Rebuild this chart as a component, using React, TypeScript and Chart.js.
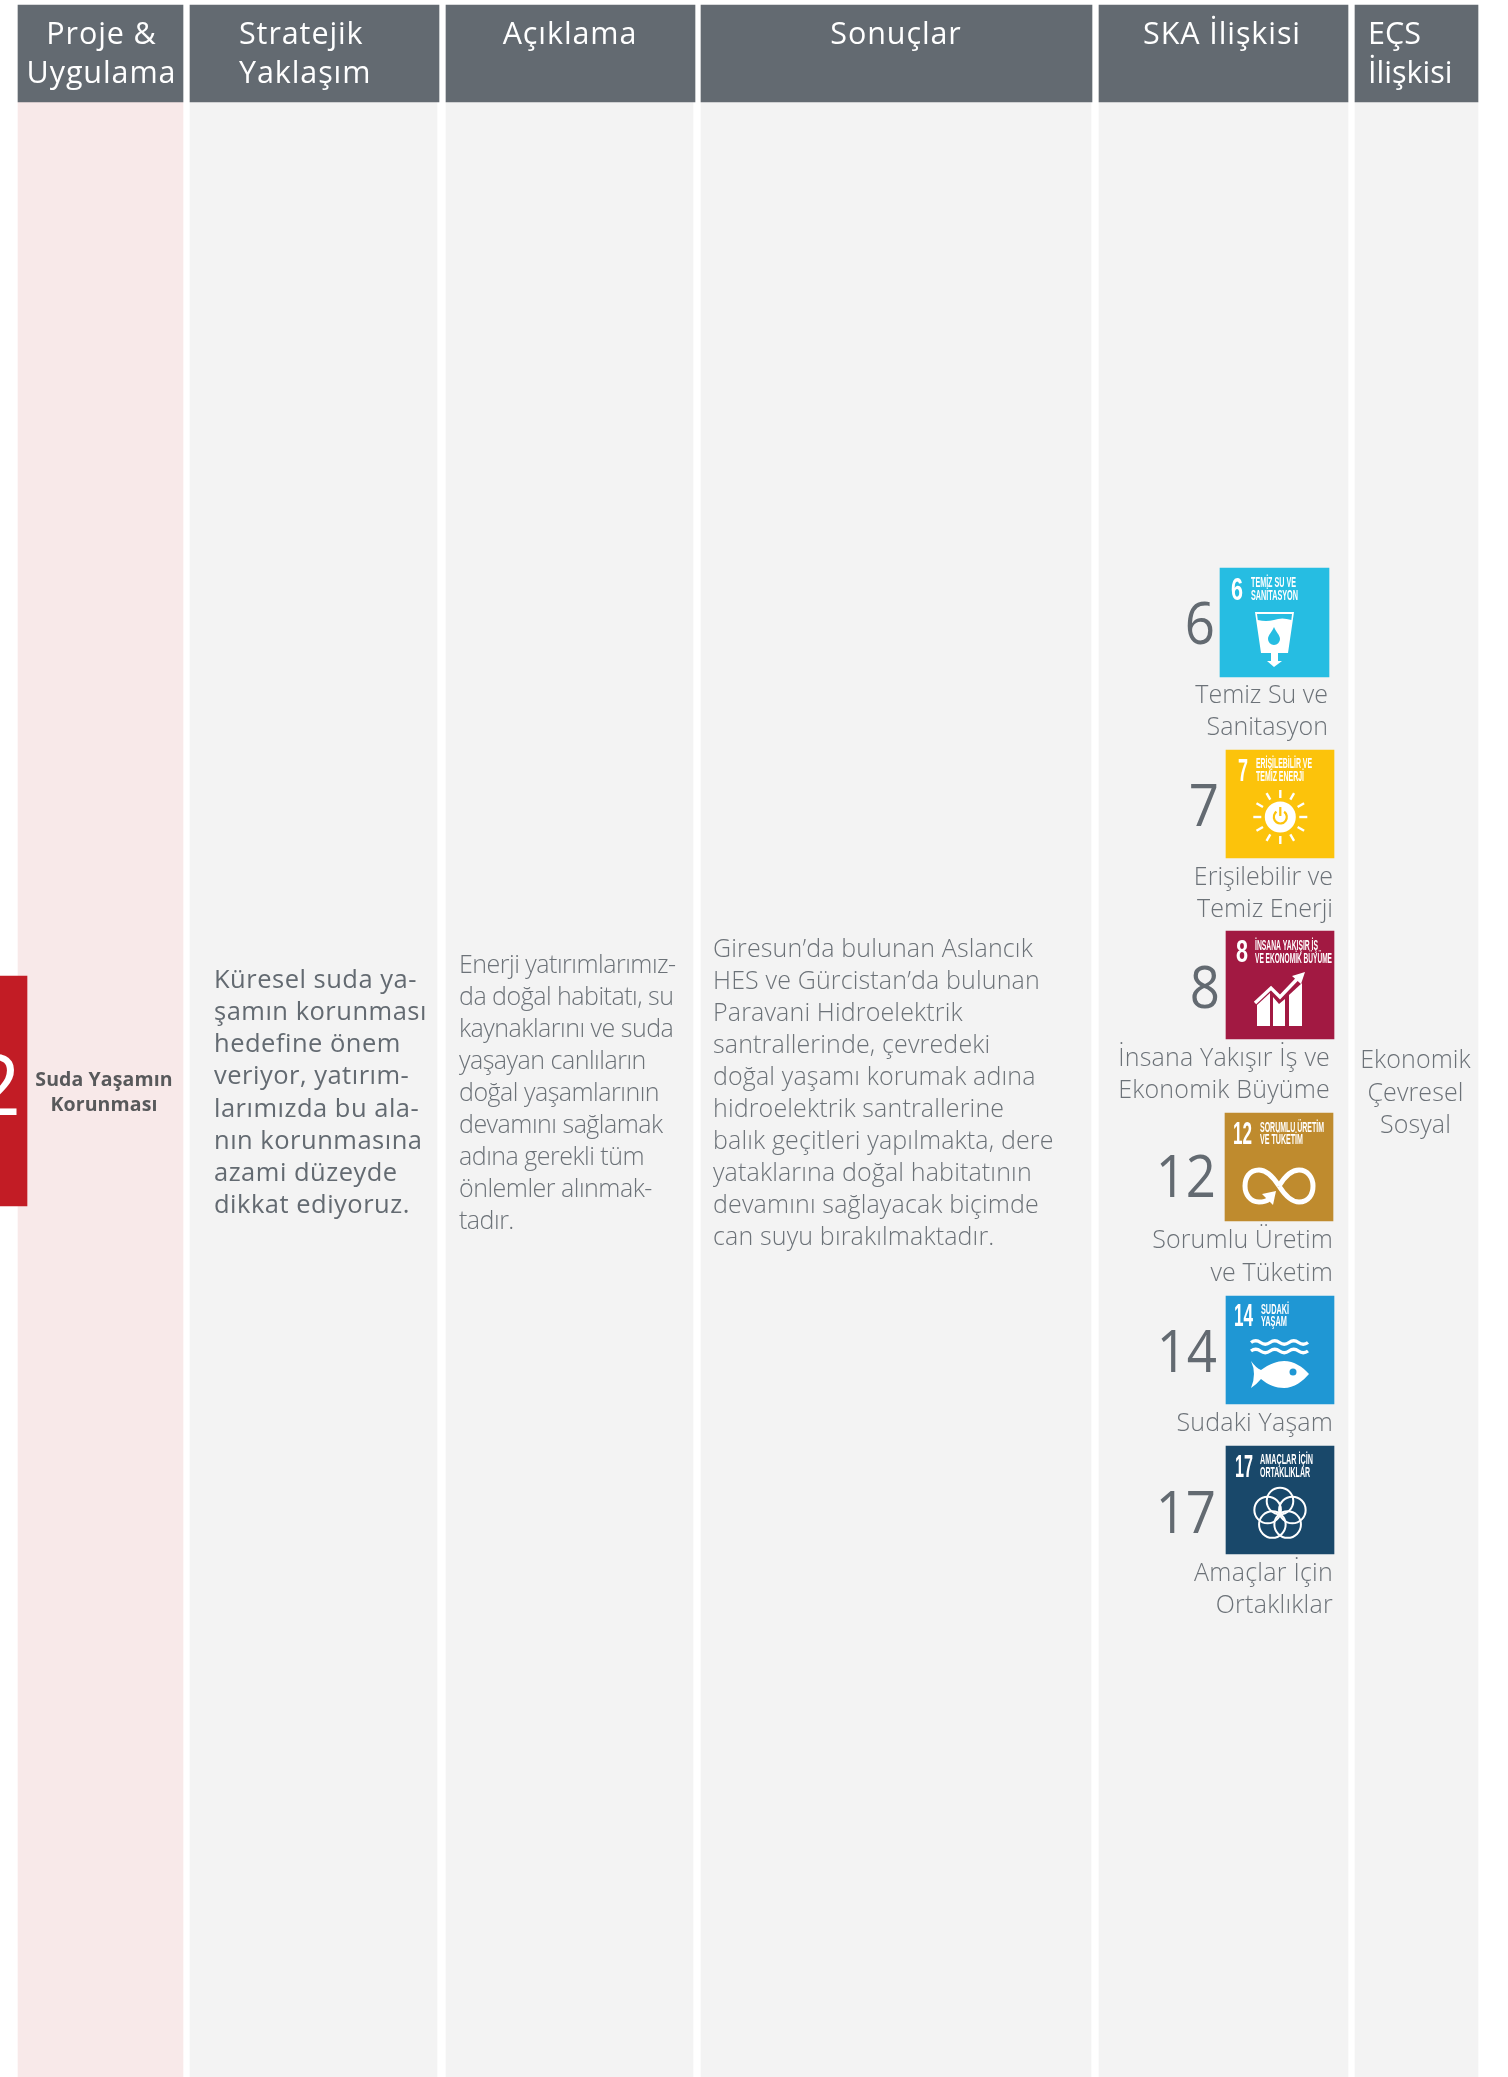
import React, { useEffect, useRef } from "react";
import { Chart, registerables } from "chart.js";

Chart.register(...registerables);

// ---------- content ----------
const headerLabels = [["Proje &", "Uygulama"], ["Stratejik", "Yaklaşım"], ["Açıklama"], ["Sonuçlar"], ["SKA İlişkisi"], ["EÇS", "İlişkisi"]];
const projectNumber = "2";
const projectName = ["Suda Yaşamın", "Korunması"];
const strategyLines = ["Küresel suda ya-", "şamın korunması", "hedefine önem", "veriyor, yatırım-", "larımızda bu ala-", "nın korunmasına", "azami düzeyde", "dikkat ediyoruz."];
const descriptionLines = ["Enerji yatırımlarımız-", "da doğal habitatı, su", "kaynaklarını ve suda", "yaşayan canlıların", "doğal yaşamlarının", "devamını sağlamak", "adına gerekli tüm", "önlemler alınmak-", "tadır."];
const resultLines = ["Giresun’da bulunan Aslancık", "HES ve Gürcistan’da bulunan", "Paravani Hidroelektrik", "santrallerinde, çevredeki", "doğal yaşamı korumak adına", "hidroelektrik santrallerine", "balık geçitleri yapılmakta, dere", "yataklarına doğal habitatının", "devamını sağlayacak biçimde", "can suyu bırakılmaktadır."];
const goalNumbers = ["6", "7", "8", "12", "14", "17"];
const goalNames = [["Temiz Su ve", "Sanitasyon"], ["Erişilebilir ve", "Temiz Enerji"], ["İnsana Yakışır İş ve", "Ekonomik Büyüme"], ["Sorumlu Üretim", "ve Tüketim"], ["Sudaki Yaşam"], ["Amaçlar İçin", "Ortaklıklar"]];
const goalIconTitles = [["TEMİZ SU VE", "SANİTASYON"], ["ERİŞİLEBİLİR VE", "TEMİZ ENERJİ"], ["İNSANA YAKIŞIR İŞ", "VE EKONOMİK BÜYÜME"], ["SORUMLU ÜRETİM", "VE TÜKETİM"], ["SUDAKİ", "YAŞAM"], ["AMAÇLAR İÇİN", "ORTAKLIKLAR"]];
const esgLines = ["Ekonomik", "Çevresel", "Sosyal"];

// ---------- layout (page pixels, used as scale values) ----------
const PAGE_W = 1508;
const PAGE_H = 2077;
const HEADER = [5, 102];
const headerXs = [[18, 183], [190, 439], [446, 695], [701, 1092], [1099, 1348], [1355, 1478]];
const bodyXs = [[18, 183], [190, 437], [446, 693], [701, 1091], [1099, 1348], [1355, 1478]];
const bodyColors = ["#f8e9e9", "#f3f3f3", "#f3f3f3", "#f3f3f3", "#f3f3f3", "#f3f3f3"];
const iconX = [1220, 1226, 1226, 1225, 1226, 1226];
const iconY = [568, 750, 931, 1113, 1296, 1446];
const iconSize = [109, 108, 108, 108, 108, 108];
const iconColors = ["#26bde2", "#fcc30b", "#a21942", "#bf8b2e", "#1f97d4", "#19486a"];
const GREY = "#636a71";
const LIGHT = "#6c7278";
const FAMILY = '"Open Sans"';

type Span = [number, number];
function barSet(label: string, xs: Span, ys: Span, color: string) {
  return {
    label,
    data: [{ x: (xs[0] + xs[1]) / 2, y: ys }],
    barThickness: xs[1] - xs[0],
    backgroundColor: color,
    borderWidth: 0,
    grouped: false,
  };
}

function drawText(
  ctx: CanvasRenderingContext2D,
  chart: any,
  lines: string[],
  x: number,
  baselines: number[],
  o: { size: number; weight?: number; color?: string; align?: CanvasTextAlign; spacing?: number; sx?: number },
) {
  const px = chart.scales.x.getPixelForValue(x);
  ctx.save();
  ctx.font = `${o.weight ?? 300} ${o.size}px ${FAMILY}`;
  ctx.fillStyle = o.color ?? LIGHT;
  ctx.textAlign = o.align ?? "left";
  ctx.textBaseline = "alphabetic";
  (ctx as any).letterSpacing = `${o.spacing ?? 0}px`;
  ctx.translate(px, 0);
  ctx.scale(o.sx ?? 1, 1);
  lines.forEach((l, i) => ctx.fillText(l, 0, chart.scales.y.getPixelForValue(baselines[i])));
  ctx.restore();
}

function fitted(ctx: CanvasRenderingContext2D, text: string, x: number, base: number, width: number, size: number, family = '"Liberation Sans"', weight = 700) {
  ctx.save();
  ctx.font = `${weight} ${size}px ${family}`;
  ctx.textAlign = "left";
  ctx.fillStyle = "#ffffff";
  const m = ctx.measureText(text).width;
  ctx.translate(x, base);
  ctx.scale(width / m, 1);
  ctx.fillText(text, 0, 0);
  ctx.restore();
}

const steps = (start: number, pitch: number, n: number) => Array.from({ length: n }, (_, i) => start + pitch * i);

// icon text placement: number x, number width, title x, title widths, baselines
const iconText = [
  { nx: 11, nw: 12, tx: 31, tw: [45, 47], tb: [19, 32], nb: 32 },
  { nx: 12, nw: 10, tx: 30, tw: [56, 48], tb: [18, 31], nb: 31 },
  { nx: 10, nw: 12, tx: 29, tw: [63, 77], tb: [19, 32], nb: 31 },
  { nx: 8, nw: 19, tx: 35, tw: [64, 43], tb: [19, 31], nb: 31 },
  { nx: 8, nw: 19, tx: 35, tw: [28, 26], tb: [18, 30], nb: 30 },
  { nx: 9, nw: 18, tx: 34, tw: [53, 50], tb: [18, 31], nb: 31 },
];

function glyph(ctx: CanvasRenderingContext2D, i: number, bg: string) {
  ctx.fillStyle = "#fff";
  ctx.strokeStyle = "#fff";
  ctx.lineCap = "butt";
  ctx.lineJoin = "miter";
  if (i === 0) {
    ctx.beginPath();
    ctx.moveTo(35, 44); ctx.lineTo(74, 44); ctx.lineTo(68, 85); ctx.lineTo(58, 85); ctx.lineTo(58, 93); ctx.lineTo(62, 93);
    ctx.lineTo(54, 99); ctx.lineTo(47, 93); ctx.lineTo(51, 93); ctx.lineTo(51, 85); ctx.lineTo(41, 85); ctx.closePath();
    ctx.fill();
    ctx.fillStyle = bg;
    ctx.beginPath();
    ctx.moveTo(37, 46); ctx.lineTo(72, 46); ctx.lineTo(71.3, 52);
    ctx.quadraticCurveTo(62, 49, 54, 52); ctx.quadraticCurveTo(46, 54, 37.8, 52); ctx.closePath();
    ctx.fill();
    ctx.beginPath();
    ctx.moveTo(54, 59); ctx.bezierCurveTo(56, 64, 60, 67, 60, 71); ctx.arc(54, 71, 6, 0, Math.PI); ctx.bezierCurveTo(48, 67, 52, 64, 54, 59);
    ctx.fill();
  } else if (i === 1) {
    const c = [54.3, 67];
    ctx.beginPath(); ctx.arc(c[0], c[1], 15.5, 0, Math.PI * 2); ctx.fill();
    ctx.lineWidth = 2.4;
    for (let k = 0; k < 12; k++) {
      const a = (k * Math.PI) / 6;
      const r0 = k % 3 === 0 ? 19 : 20;
      const r1 = k % 3 === 0 ? 27 : 27.5;
      ctx.beginPath();
      ctx.moveTo(c[0] + r0 * Math.cos(a), c[1] + r0 * Math.sin(a));
      ctx.lineTo(c[0] + r1 * Math.cos(a), c[1] + r1 * Math.sin(a));
      ctx.stroke();
    }
    ctx.strokeStyle = bg;
    ctx.lineWidth = 2.2;
    ctx.beginPath(); ctx.arc(c[0], c[1], 6.5, -Math.PI * 0.3, Math.PI * 1.3); ctx.stroke();
    ctx.beginPath(); ctx.moveTo(c[0], c[1] - 10); ctx.lineTo(c[0], c[1] - 1); ctx.stroke();
  } else if (i === 2) {
    const polys = [
      [[31, 95], [31, 74], [44, 62], [44, 95]],
      [[47, 95], [47, 66], [53, 73], [59, 68], [59, 95]],
      [[63, 95], [63, 64], [76, 52], [76, 95]],
    ];
    polys.forEach((p) => {
      ctx.beginPath();
      p.forEach((q, k) => (k ? ctx.lineTo(q[0], q[1]) : ctx.moveTo(q[0], q[1])));
      ctx.closePath(); ctx.fill();
    });
    ctx.lineWidth = 3.4;
    ctx.beginPath(); ctx.moveTo(29, 72); ctx.lineTo(45, 57); ctx.lineTo(54, 66); ctx.lineTo(74, 45); ctx.stroke();
    ctx.beginPath(); ctx.moveTo(79, 41); ctx.lineTo(66, 45); ctx.lineTo(75, 53); ctx.closePath(); ctx.fill();
  } else if (i === 3) {
    ctx.lineWidth = 5;
    ctx.beginPath();
    ctx.moveTo(54, 73);
    ctx.bezierCurveTo(47, 62, 41, 57, 34, 57);
    ctx.bezierCurveTo(24, 57, 20, 65, 20, 73);
    ctx.bezierCurveTo(20, 81, 25, 89, 34, 89);
    ctx.bezierCurveTo(38, 89, 42, 88, 44, 86);
    ctx.stroke();
    ctx.beginPath();
    ctx.moveTo(54, 73);
    ctx.bezierCurveTo(61, 84, 67, 89, 74, 89);
    ctx.bezierCurveTo(84, 89, 88, 81, 88, 73);
    ctx.bezierCurveTo(88, 65, 83, 57, 74, 57);
    ctx.bezierCurveTo(66, 57, 60, 63, 54, 73);
    ctx.stroke();
    ctx.beginPath(); ctx.moveTo(51, 78); ctx.lineTo(37, 81); ctx.lineTo(48, 92); ctx.closePath(); ctx.fill();
  } else if (i === 4) {
    ctx.lineWidth = 3.4;
    [46.5, 55].forEach((y) => {
      ctx.beginPath();
      ctx.moveTo(25, y);
      for (let k = 0; k < 3; k++) {
        const x = 25 + k * 19;
        ctx.quadraticCurveTo(x + 4.75, y - 3.5, x + 9.5, y);
        ctx.quadraticCurveTo(x + 14.25, y + 3.5, x + 19, y);
      }
      ctx.stroke();
    });
    ctx.beginPath();
    ctx.moveTo(25, 65); ctx.quadraticCurveTo(30, 72, 35, 74);
    ctx.bezierCurveTo(43, 68, 52, 65, 58, 65);
    ctx.bezierCurveTo(68, 65, 77, 71, 83, 78);
    ctx.bezierCurveTo(77, 85, 68, 92, 58, 92);
    ctx.bezierCurveTo(50, 92, 42, 89, 35, 83);
    ctx.quadraticCurveTo(31, 88, 25, 92);
    ctx.quadraticCurveTo(31, 78, 25, 65);
    ctx.fill();
    ctx.fillStyle = bg;
    ctx.beginPath(); ctx.arc(67, 76, 3.5, 0, Math.PI * 2); ctx.fill();
  } else {
    ctx.lineWidth = 2;
    for (let k = 0; k < 5; k++) {
      const a = -Math.PI / 2 + (k * 2 * Math.PI) / 5;
      ctx.beginPath();
      ctx.arc(54 + 13 * Math.cos(a), 68 + 13 * Math.sin(a), 13.3, 0, Math.PI * 2);
      ctx.stroke();
    }
  }
}

const contentPlugin = {
  id: "tableContent",
  afterDatasetsDraw(chart: any) {
    const ctx: CanvasRenderingContext2D = chart.ctx;
    const H = { size: 30.5, weight: 400, color: "#ffffff", spacing: 0.9 };
    drawText(ctx, chart, headerLabels[0], 101.5, [44, 83], { ...H, align: "center" });
    drawText(ctx, chart, headerLabels[1], 239, [44, 83], H);
    drawText(ctx, chart, headerLabels[2], 570, [44], { ...H, align: "center" });
    drawText(ctx, chart, headerLabels[3], 896, [44], { ...H, align: "center" });
    drawText(ctx, chart, headerLabels[4], 1222, [44], { ...H, align: "center" });
    drawText(ctx, chart, headerLabels[5], 1368, [44, 83], { ...H, spacing: 0 });

    drawText(ctx, chart, [projectNumber], 21, [1115], { size: 84, weight: 400, color: "#ffffff", align: "right" });
    drawText(ctx, chart, projectName, 104, [1086, 1111], { size: 19.5, weight: 700, color: "#58595b", align: "center", spacing: 0.1 });
    drawText(ctx, chart, strategyLines, 214, [988, 1020, 1052, 1084, 1117, 1149, 1181, 1213], { size: 25.5, weight: 400, color: GREY, spacing: 0.5 });
    drawText(ctx, chart, descriptionLines, 459, steps(973, 32, 9), { size: 25, spacing: -0.5 });
    drawText(ctx, chart, resultLines, 713, steps(957, 32, 10), { size: 25, spacing: 0.15 });
    drawText(ctx, chart, esgLines, 1415.5, [1068, 1101, 1133], { size: 25, align: "center", spacing: 0.1 });

    const numRight = [1215, 1219, 1220, 1216, 1217, 1216];
    const numBase = [644, 826, 1008, 1197, 1372, 1533];
    const nameRight = [1328, 1333, 1330, 1333, 1333, 1333];
    const nameBase = [[703, 735], [885, 917], [1066, 1098], [1248, 1281], [1431], [1581, 1613]];
    const nameSpacing = [0, 0, 0.2, 0.1, 0.2, 0.25];
    goalNumbers.forEach((n, i) => {
      drawText(ctx, chart, [n], numRight[i], [numBase[i]], { size: 58, weight: 400, color: GREY, align: "right", sx: 0.91 });
      drawText(ctx, chart, goalNames[i], nameRight[i], nameBase[i], { size: 25, align: "right", spacing: nameSpacing[i] });
      ctx.save();
      ctx.translate(chart.scales.x.getPixelForValue(iconX[i]), chart.scales.y.getPixelForValue(iconY[i]));
      const t = iconText[i];
      fitted(ctx, n, t.nx, t.nb, t.nw, 32);
      goalIconTitles[i].forEach((l, k) => fitted(ctx, l, t.tx, t.tb[k], t.tw[k], 14));
      glyph(ctx, i, iconColors[i]);
      ctx.restore();
    });
  },
};

export default function App() {
  const ref = useRef<HTMLCanvasElement>(null);
  useEffect(() => {
    const datasets: any[] = [
      barSet("Numara", [0, 27], [976, 1206], "#c21c25"),
      ...goalNumbers.map((n, i) => barSet(`SKA ${n}`, [iconX[i], iconX[i] + iconSize[i]], [iconY[i], iconY[i] + iconSize[i]], iconColors[i])),
      ...headerLabels.map((h, i) => barSet(h.join(" "), headerXs[i] as Span, HEADER as Span, GREY)),
      ...bodyXs.map((xs, i) => barSet(`Sütun ${i + 1}`, xs as Span, [HEADER[1], PAGE_H], bodyColors[i])),
    ];
    const chart = new Chart(ref.current as HTMLCanvasElement, {
      type: "bar",
      data: { datasets },
      options: {
        animation: false,
        responsive: false,
        devicePixelRatio: 1,
        layout: { padding: 0 },
        plugins: { legend: { display: false }, tooltip: { enabled: false } },
        scales: {
          x: { type: "linear", min: 0, max: PAGE_W, display: false, offset: false },
          y: { type: "linear", min: 0, max: PAGE_H, reverse: true, display: false },
        },
      } as any,
      plugins: [contentPlugin],
    });
    return () => chart.destroy();
  }, []);
  return (
    <div style={{ position: "absolute", left: 0, top: 0, width: PAGE_W, height: PAGE_H, overflow: "hidden", background: "#fff" }}>
      <canvas ref={ref} width={PAGE_W} height={PAGE_H} style={{ display: "block" }} />
    </div>
  );
}
